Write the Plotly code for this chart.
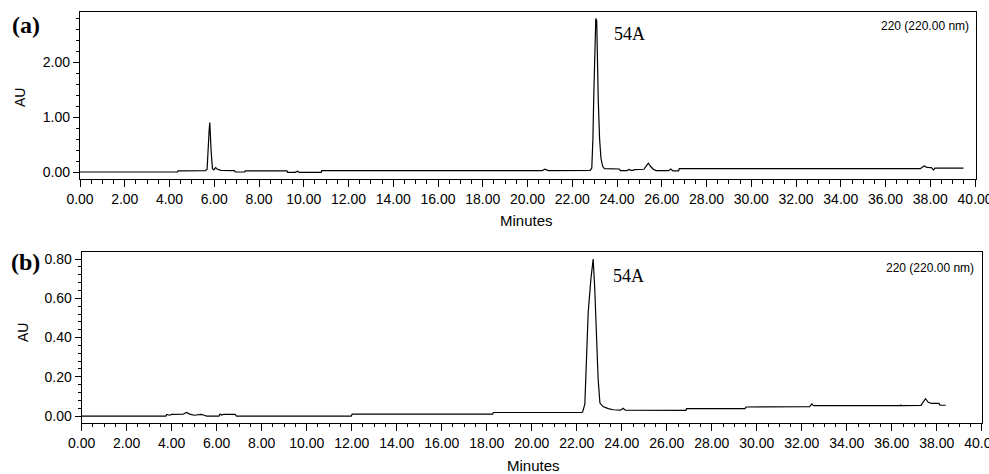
import plotly.graph_objects as go

# ---------------- data ----------------
# Panel (a): time (min) and absorbance (AU)
time_a = [0.00, 4.36, 4.38, 5.60, 5.68, 5.74, 5.77, 5.80, 5.83, 5.86, 5.92, 5.98, 6.06, 6.14,
          6.30, 6.90, 6.94, 7.36, 7.38, 9.25, 9.28, 9.62, 9.72, 9.80, 10.78, 10.80,
          20.65, 20.78, 20.92, 22.80, 22.87, 22.92, 22.96, 23.01, 23.05, 23.09, 23.12,
          23.16, 23.22, 23.28, 23.36, 23.44, 24.10, 24.15, 24.45, 24.52, 24.62, 24.72,
          24.78, 25.20, 25.32, 25.40, 25.50, 25.62, 25.75, 26.30, 26.40, 26.50, 26.75,
          26.78, 37.55, 37.72, 37.85, 38.05, 38.14, 38.20, 39.48]
au_a = [0.000, 0.000, 0.022, 0.025, 0.05, 0.73, 0.75, 0.90, 0.40, 0.38, 0.06, 0.04, 0.08, 0.05,
        0.03, 0.025, 0.000, 0.000, 0.022, 0.020, -0.005, -0.005, 0.015, -0.005, -0.005, 0.025,
        0.025, 0.050, 0.025, 0.030, 0.07, 0.60, 1.40, 2.60, 2.79, 2.75, 2.00,
        1.30, 0.60, 0.25, 0.10, 0.06, 0.055, 0.025, 0.025, 0.045, 0.030, 0.030,
        0.045, 0.050, 0.12, 0.16, 0.10, 0.05, 0.025, 0.025, 0.055, 0.020, 0.020,
        0.060, 0.060, 0.11, 0.085, 0.080, 0.036, 0.070, 0.072]

# Panel (b)
time_b = [0.00, 3.74, 3.78, 3.90, 4.00, 4.50, 4.66, 4.80, 5.00, 5.20, 5.30, 5.45, 5.55, 6.10,
          6.15, 6.22, 6.30, 6.82, 6.88, 11.98, 12.02, 18.26, 18.30, 22.20, 22.26, 22.36,
          22.43, 22.51, 22.63, 22.73, 22.80, 22.88, 22.95, 23.03, 23.17, 23.40, 23.62,
          23.95, 24.06, 24.16, 26.85, 26.88, 29.48, 29.52, 32.35, 32.45, 32.52, 36.38,
          36.40, 36.42, 37.30, 37.50, 37.62, 37.76, 38.10, 38.14, 38.40]
au_b = [0.000, 0.000, 0.008, 0.004, 0.008, 0.009, 0.018, 0.010, 0.004, 0.005, 0.008, 0.004, 0.000, 0.000,
        0.010, 0.005, 0.008, 0.008, 0.000, 0.000, 0.010, 0.010, 0.018, 0.018, 0.020, 0.06,
        0.28, 0.53, 0.70, 0.80, 0.65, 0.42, 0.19, 0.066, 0.048, 0.038, 0.032,
        0.030, 0.040, 0.030, 0.029, 0.038, 0.038, 0.046, 0.048, 0.062, 0.053, 0.053,
        0.058, 0.053, 0.054, 0.088, 0.070, 0.064, 0.064, 0.055, 0.055]

panel_labels = ["(a)", "(b)"]
peak_label = "54A"
channel_label = "220 (220.00 nm)"
x_title = "Minutes"
y_title = "AU"

# ---------------- figure ----------------
W, H = 989, 474
def px(x):
    return x / W
def py(y):
    return 1 - y / H

fig = go.Figure()
line = dict(color="black", width=1.2)
fig.add_trace(go.Scatter(x=time_a, y=au_a, mode="lines", line=line, xaxis="x", yaxis="y",
                         showlegend=False, hoverinfo="skip"))
fig.add_trace(go.Scatter(x=time_b, y=au_b, mode="lines", line=line, xaxis="x2", yaxis="y2",
                         showlegend=False, hoverinfo="skip"))

tickfont = dict(family="Liberation Sans, Arial, sans-serif", size=14, color="black")
common_x = dict(showgrid=False, zeroline=False, showline=True, linecolor="black", linewidth=1.3,
                mirror=True, ticks="outside", ticklen=7, tickwidth=1, tickcolor="black",
                dtick=2, tick0=0, tickformat=".2f", tickfont=tickfont,
                ticklabeloverflow="allow",
                minor=dict(dtick=0.5, ticklen=3.5, ticks="outside", tickcolor="black", tickwidth=1),
                automargin=False, fixedrange=True)
common_y = dict(showgrid=False, zeroline=False, showline=True, linecolor="black", linewidth=1.3,
                mirror=True, ticks="outside", ticklen=6, tickwidth=1, tickcolor="black",
                tick0=0, tickformat=".2f", tickfont=tickfont,
                automargin=False, fixedrange=True)

fig.update_layout(
    width=W, height=H,
    margin=dict(l=0, r=0, t=0, b=0),
    paper_bgcolor="white", plot_bgcolor="white",
    xaxis=dict(common_x, domain=[px(80), px(976)], range=[0, 40.04], anchor="y"),
    yaxis=dict(common_y, domain=[py(179), py(12)], range=[-0.127, 2.91], dtick=1,
               minor=dict(dtick=0.2, ticklen=2.5, ticks="outside", tickcolor="black", tickwidth=1),
               anchor="x"),
    xaxis2=dict(common_x, domain=[px(81.7), px(982)], range=[0, 40.01], anchor="y2"),
    yaxis2=dict(common_y, domain=[py(422.7), py(252)], range=[-0.034, 0.836], dtick=0.2,
                minor=dict(dtick=0.04, ticklen=2.5, ticks="outside", tickcolor="black", tickwidth=1),
                anchor="x2"),
)

ann = []
lab_font = dict(family="Liberation Serif, Times New Roman, serif", size=24, color="black")
ann.append(dict(text="<b>" + panel_labels[0] + "</b>", x=px(10), y=py(25), xref="paper", yref="paper",
                xanchor="left", yanchor="middle", showarrow=False, font=lab_font))
ann.append(dict(text="<b>" + panel_labels[1] + "</b>", x=px(9), y=py(262), xref="paper", yref="paper",
                xanchor="left", yanchor="middle", showarrow=False, font=lab_font))
peak_font = dict(family="Liberation Serif, Times New Roman, serif", size=18, color="black")
ann.append(dict(text=peak_label, x=px(629), y=py(34), xref="paper", yref="paper",
                xanchor="center", yanchor="middle", showarrow=False, font=peak_font))
ann.append(dict(text=peak_label, x=px(628), y=py(276), xref="paper", yref="paper",
                xanchor="center", yanchor="middle", showarrow=False, font=peak_font))
ch_font = dict(family="Liberation Sans, Arial, sans-serif", size=12, color="black")
ann.append(dict(text=channel_label, x=px(971), y=py(26), xref="paper", yref="paper",
                xanchor="right", yanchor="middle", showarrow=False, font=ch_font))
ann.append(dict(text=channel_label, x=px(976), y=py(268), xref="paper", yref="paper",
                xanchor="right", yanchor="middle", showarrow=False, font=ch_font))
t_font = dict(family="Liberation Sans, Arial, sans-serif", size=15, color="black")
ann.append(dict(text=x_title, x=px(526), y=py(220), xref="paper", yref="paper",
                xanchor="center", yanchor="middle", showarrow=False, font=t_font))
ann.append(dict(text=x_title, x=px(533), y=py(465), xref="paper", yref="paper",
                xanchor="center", yanchor="middle", showarrow=False, font=t_font))
ann.append(dict(text=y_title, x=px(20), y=py(98), xref="paper", yref="paper", textangle=-90,
                xanchor="center", yanchor="middle", showarrow=False, font=dict(t_font, size=14)))
ann.append(dict(text=y_title, x=px(23), y=py(333), xref="paper", yref="paper", textangle=-90,
                xanchor="center", yanchor="middle", showarrow=False, font=dict(t_font, size=14)))
fig.update_layout(annotations=ann)

fig.write_html("out.html", config={"displayModeBar": False},
               post_script="document.body.style.margin='0';document.body.style.overflow='hidden';")
